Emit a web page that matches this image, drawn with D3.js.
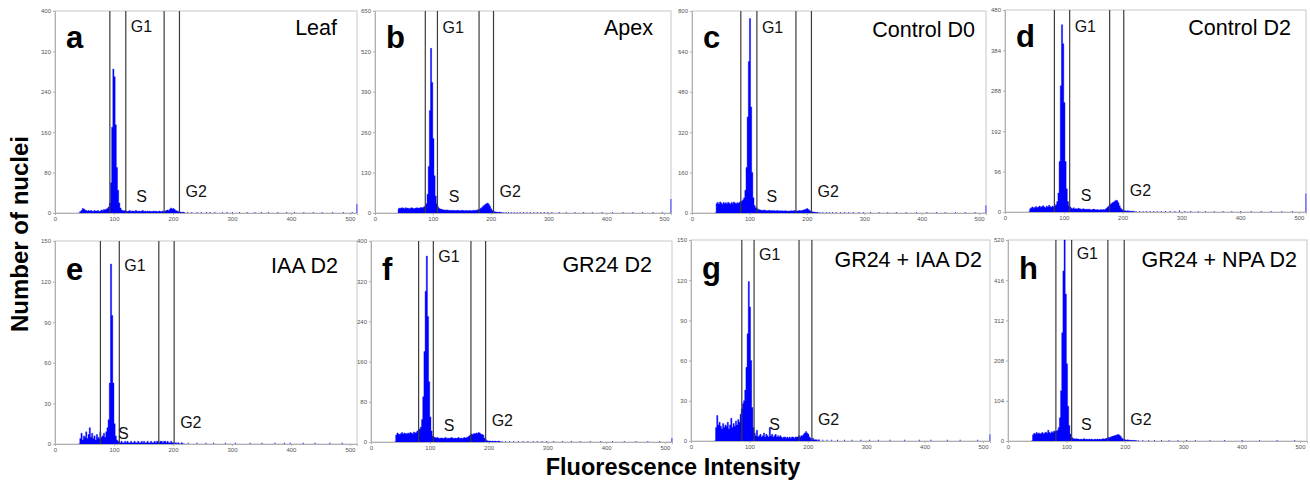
<!DOCTYPE html>
<html>
<head>
<meta charset="utf-8">
<script src="https://cdn.jsdelivr.net/npm/d3@7"></script>
<style>
  html, body { margin: 0; padding: 0; background: #fff; }
  svg { display: block; }
</style>
</head>
<body>
<svg id="chart" width="1310" height="484"></svg>
<script>
// ---- Flow cytometry histograms: nuclei counts per fluorescence channel ----

const panelLetters = ["a", "b", "c", "d", "e", "f", "g", "h"];
const panelTitles = ["Leaf", "Apex", "Control D0", "Control D2", "IAA D2", "GR24 D2", "GR24 + IAA D2", "GR24 + NPA D2"];

// y-axis maxima and tick labels for each panel
const yMax = [400, 650, 800, 480, 150, 400, 150, 520];
const yTickValues = [
  [0, 80, 160, 240, 320, 400],
  [0, 130, 260, 390, 520, 650],
  [0, 160, 320, 480, 640, 800],
  [0, 96, 192, 288, 384, 480],
  [0, 30, 60, 90, 120, 150],
  [0, 80, 160, 240, 320, 400],
  [0, 30, 60, 90, 120, 150],
  [0, 104, 208, 312, 416, 520]
];
const xTickValues = [0, 100, 200, 300, 400, 500];
const channelMax = 512;

// gate boundaries (channel): G1 start, G1 end / S start, S end / G2 start, G2 end
const gates = [
  [93, 120, 185, 211],
  [87, 108, 180, 205],
  [85, 113, 181, 208],
  [84, 110, 178, 202],
  [77, 109, 176, 202],
  [81, 106, 170, 195],
  [87, 108, 185, 207],
  [82, 109, 171, 199]
];
// channel where the "S" label is centred
const sLabelChannel = [147, 137, 139, 138, 116, 133, 143, 134];

// histogram counts: bins of 2 channels starting at channel 40
const binStart = 40;
const binWidth = 2;

const leafCounts = [
  0, 3, 5, 9, 8, 6, 5, 4, 5, 4,
  5, 4, 3, 5, 4, 4, 5, 3, 4, 6,
  5, 7, 6, 8, 9, 12, 20, 60, 170, 285,
  270, 175, 90, 45, 20, 10, 6, 5, 4, 5,
  4, 3, 4, 5, 3, 4, 4, 3, 5, 4,
  3, 4, 3, 4, 5, 3, 4, 3, 4, 3,
  4, 3, 3, 4, 3, 4, 3, 3, 4, 3,
  3, 4, 3, 4, 5, 6, 5, 8, 10, 8,
  9, 7, 5, 4, 3, 2, 2, 1, 2, 1
];
const apexCounts = [
  14, 16, 15, 17, 16, 14, 17, 15, 16, 14,
  15, 17, 16, 14, 15, 16, 17, 15, 16, 18,
  17, 18, 20, 22, 30, 60, 150, 330, 530, 420,
  240, 120, 55, 30, 20, 15, 13, 12, 11, 10,
  10, 9, 10, 9, 8, 9, 8, 9, 8, 8,
  8, 9, 8, 7, 8, 9, 8, 7, 8, 8,
  7, 8, 8, 7, 8, 9, 8, 9, 10, 11,
  12, 15, 18, 22, 25, 28, 30, 32, 28, 22,
  14, 8, 5, 4, 3, 3, 2, 3, 2, 2
];
const controlD0Counts = [
  0, 38, 42, 36, 44, 40, 35, 42, 38, 41,
  37, 43, 39, 36, 42, 38, 44, 40, 37, 41,
  39, 43, 45, 48, 52, 60, 90, 180, 380, 600,
  770, 420, 160, 60, 30, 22, 18, 15, 13, 12,
  11, 10, 12, 11, 10, 9, 10, 11, 9, 10,
  9, 10, 8, 9, 10, 8, 9, 8, 9, 8,
  8, 9, 8, 7, 8, 8, 9, 8, 9, 10,
  9, 8, 9, 10, 9, 10, 11, 12, 14, 16,
  18, 14, 10, 7, 5, 4, 3, 3, 2, 2
];
const controlD2Counts = [
  0, 8, 10, 12, 9, 11, 13, 10, 12, 14,
  11, 13, 15, 12, 10, 14, 12, 16, 13, 11,
  14, 12, 15, 18, 25, 45, 120, 300, 445, 400,
  260, 120, 55, 25, 15, 12, 9, 8, 10, 7,
  8, 7, 9, 8, 7, 6, 8, 7, 6, 7,
  6, 7, 6, 5, 6, 7, 6, 5, 6, 5,
  5, 6, 5, 6, 5, 7, 9, 12, 15, 18,
  20, 22, 24, 26, 28, 27, 22, 15, 9, 6,
  4, 3, 3, 2, 3, 2, 2, 2, 1, 2
];
const iaaD2Counts = [
  0, 4, 8, 3, 6, 5, 9, 4, 7, 12,
  5, 8, 4, 6, 3, 7, 5, 4, 9, 5,
  6, 8, 5, 9, 12, 18, 45, 133, 95, 45,
  15, 6, 3, 2, 2, 1, 2, 1, 1, 2,
  1, 2, 1, 1, 2, 1, 1, 2, 1, 1,
  2, 1, 1, 2, 1, 2, 1, 1, 2, 1,
  1, 2, 1, 1, 2, 1, 2, 2, 1, 2,
  2, 1, 2, 2, 1, 2, 1, 1, 2, 1,
  1, 0, 1, 0, 1, 0, 0, 1, 0, 0
];
const gr24D2Counts = [
  0, 14, 18, 16, 15, 17, 19, 16, 18, 17,
  16, 18, 17, 19, 18, 16, 20, 18, 19, 22,
  24, 26, 30, 45, 90, 180, 300, 370, 250, 120,
  50, 22, 12, 10, 9, 8, 9, 8, 7, 8,
  8, 7, 8, 9, 7, 8, 7, 8, 9, 8,
  7, 8, 7, 8, 9, 7, 8, 7, 8, 9,
  8, 9, 10, 12, 14, 16, 15, 17, 16, 18,
  17, 19, 18, 16, 15, 14, 8, 5, 3, 2,
  2, 2, 1, 2, 1, 2, 1, 1, 2, 1
];
const gr24IaaD2Counts = [
  0, 10, 19, 12, 14, 11, 9, 13, 10, 12,
  11, 14, 9, 12, 17, 10, 13, 11, 15, 12,
  16, 14, 20, 24, 28, 30, 38, 55, 80, 119,
  100, 60, 25, 10, 6, 4, 8, 3, 4, 5,
  3, 4, 6, 3, 5, 4, 3, 10, 4, 5,
  3, 4, 5, 3, 4, 3, 4, 3, 2, 3,
  3, 2, 3, 2, 3, 2, 3, 3, 2, 3,
  3, 3, 4, 3, 4, 4, 5, 6, 7, 6,
  5, 3, 2, 1, 2, 1, 1, 1, 0, 1
];
const gr24NpaD2Counts = [
  0, 16, 20, 18, 22, 19, 21, 18, 20, 22,
  19, 21, 23, 20, 28, 22, 20, 24, 22, 26,
  24, 26, 28, 35, 60, 130, 280, 440, 520, 380,
  200, 90, 40, 18, 10, 7, 6, 5, 6, 5,
  5, 4, 5, 4, 5, 6, 4, 5, 4, 5,
  4, 5, 4, 4, 5, 4, 5, 4, 5, 4,
  5, 6, 5, 6, 7, 8, 9, 10, 11, 12,
  13, 14, 15, 16, 17, 15, 12, 8, 5, 4,
  3, 2, 3, 2, 2, 1, 2, 1, 1, 1
];

// sparse events beyond the binned range: [channel, count]
const leafTail = [[224,1],[231,2],[240,1],[247,1],[256,2],[262,1],[270,1],[283,1],[291,2],[300,1],[312,1],[325,1],[338,1],[349,2],[361,1],[377,1],[392,1],[405,1],[421,1],[437,2],[452,1],[470,1],[488,1],[503,1],[511,18]];
const apexTail = [[222,3],[226,2],[230,2],[235,2],[240,1],[245,2],[250,2],[256,1],[262,2],[268,1],[274,2],[280,1],[286,2],[292,1],[298,1],[305,1],[318,1],[330,1],[345,1],[360,1],[375,1],[392,1],[410,1],[428,1],[445,1],[462,1],[480,1],[496,1],[511,45]];
const controlD0Tail = [[222,2],[227,2],[233,1],[238,2],[244,1],[250,2],[258,1],[265,1],[272,2],[280,1],[290,1],[298,1],[310,1],[325,1],[340,1],[355,1],[372,1],[390,1],[408,1],[425,1],[440,1],[458,1],[475,1],[492,1],[511,30]];
const controlD2Tail = [[222,2],[228,2],[234,1],[240,2],[246,1],[252,2],[258,1],[265,2],[272,1],[280,1],[288,2],[296,4],[305,1],[315,1],[328,1],[340,1],[355,1],[370,1],[385,1],[400,1],[418,1],[435,1],[452,1],[470,1],[488,1],[511,44]];
const iaaD2Tail = [[225,1],[240,1],[255,1],[268,1],[288,1],[305,1],[330,1],[350,1],[372,1],[388,1],[398,1],[420,1],[440,1],[465,1],[486,1]];
const gr24D2Tail = [[222,1],[228,2],[235,1],[242,1],[250,2],[258,1],[266,1],[275,1],[282,2],[290,2],[298,1],[310,1],[325,1],[340,1],[355,1],[372,1],[390,1],[410,1],[430,1],[450,1],[470,1],[490,1],[511,8]];
const gr24IaaD2Tail = [[225,1],[232,1],[240,1],[250,1],[262,1],[275,1],[290,1],[305,1],[320,1],[340,1],[365,1],[390,1],[410,1],[438,1],[460,1],[490,1],[511,5]];
const gr24NpaD2Tail = [[222,1],[230,1],[240,1],[250,1],[262,1],[275,1],[290,1],[305,1],[320,1],[345,1],[370,1],[400,1],[430,1],[460,1],[490,1]];

const panelCounts = [leafCounts, apexCounts, controlD0Counts, controlD2Counts, iaaD2Counts, gr24D2Counts, gr24IaaD2Counts, gr24NpaD2Counts];
const panelTails = [leafTail, apexTail, controlD0Tail, controlD2Tail, iaaD2Tail, gr24D2Tail, gr24IaaD2Tail, gr24NpaD2Tail];

// ---- layout (pixels) ----
// plot box per panel: [left, top, right, bottom]
const plotBoxes = [
  [55, 11, 357, 213],
  [375, 11, 671, 213],
  [692, 11, 986, 213],
  [1005, 10, 1306, 212],
  [55, 241, 357, 444],
  [371, 241, 672, 442],
  [691, 240, 990, 441],
  [1008, 240, 1307, 441]
];
const titleRightInset = [20, 18, 11, 15, 19, 20, 8, 10];
const titleBaselineOffset = [24, 24, 26, 25, 32, 31, 27, 27];
const g1Offset = [15, 16, 16, 16, 24, 15, 14, 13];

const svg = d3.select("#chart");
const font = "'Liberation Sans', Arial, Helvetica, sans-serif";

panelTitles.forEach((title, i) => {
  const [L, T, R, B] = plotBoxes[i];
  const x = d3.scaleLinear().domain([0, channelMax]).range([L, R]);
  const y = d3.scaleLinear().domain([0, yMax[i]]).range([B, T]);
  const g = svg.append("g").attr("class", "panel");

  // frame
  g.append("rect")
    .attr("x", L).attr("y", T)
    .attr("width", R - L).attr("height", B - T)
    .attr("fill", "none").attr("stroke", "#c8c8c8").attr("stroke-width", 1);

  // histogram as a stepped area over the binned channels
  const bins = panelCounts[i].map((v, k) => ({ ch: binStart + k * binWidth, v }));
  const last = bins[bins.length - 1];
  const stepPts = bins.concat([{ ch: last.ch + binWidth, v: last.v }]);
  const area = d3.area()
    .x(d => x(d.ch))
    .y0(B)
    .y1(d => y(Math.min(d.v, yMax[i])))
    .curve(d3.curveStepAfter);
  g.append("path")
    .datum(stepPts)
    .attr("d", area)
    .attr("fill", "#0000ff")
    .attr("stroke", "#0000ff")
    .attr("stroke-width", 0.4);

  // sparse events
  g.append("g").selectAll("rect").data(panelTails[i]).join("rect")
    .attr("x", d => x(d[0]))
    .attr("width", d => Math.max(1, x(d[0] + 1) - x(d[0])))
    .attr("y", d => Math.min(y(d[1]), B - 1))
    .attr("height", d => Math.max(1, B - y(d[1])))
    .attr("fill", "#3a3aff");

  // axes
  const xAxis = d3.axisBottom(x).tickValues(xTickValues).tickSize(2).tickPadding(2);
  const gx = g.append("g").attr("transform", `translate(0,${B})`).call(xAxis);
  const yAxis = d3.axisLeft(y).tickValues(yTickValues[i]).tickSize(2).tickPadding(2);
  const gy = g.append("g").attr("transform", `translate(${L},0)`).call(yAxis);
  [gx, gy].forEach(ax => {
    ax.select(".domain").attr("stroke", "#b0b0b0");
    ax.selectAll(".tick line").attr("stroke", "#b0b0b0");
    ax.selectAll(".tick text").attr("fill", "#555").attr("font-size", 6).attr("font-family", font);
  });

  // gate lines
  g.append("g").selectAll("line").data(gates[i]).join("line")
    .attr("x1", d => x(d)).attr("x2", d => x(d))
    .attr("y1", T).attr("y2", B)
    .attr("stroke", "#3c3c3c").attr("stroke-width", 1.2);

  // gate labels
  const gateLabel = (txt, xx, yy, anchor) => g.append("text")
    .attr("x", xx).attr("y", yy).attr("text-anchor", anchor)
    .attr("dominant-baseline", "central")
    .attr("font-family", font).attr("font-size", 16).attr("fill", "#111")
    .text(txt);
  gateLabel("G1", x(gates[i][1]) + 5, T + g1Offset[i], "start");
  gateLabel("S", x(sLabelChannel[i]), i === 4 ? B - 11 : B - 17, "middle");
  gateLabel("G2", x(gates[i][3]) + 6, B - 22, "start");

  // panel letter
  g.append("text")
    .attr("x", L + 11).attr("y", T + (i < 4 ? 37 : 39))
    .attr("font-family", font).attr("font-weight", "bold").attr("font-size", 31)
    .attr("fill", "#000")
    .text(panelLetters[i]);

  // panel title
  g.append("text")
    .attr("x", R - titleRightInset[i]).attr("y", T + titleBaselineOffset[i])
    .attr("text-anchor", "end")
    .attr("font-family", font).attr("font-size", 21.5).attr("fill", "#000")
    .text(title);
});

// shared axis titles
svg.append("text")
  .attr("transform", "translate(28,234) rotate(-90)")
  .attr("text-anchor", "middle")
  .attr("font-family", font).attr("font-weight", "bold").attr("font-size", 24)
  .text("Number of nuclei");

svg.append("text")
  .attr("x", 673).attr("y", 475)
  .attr("text-anchor", "middle")
  .attr("font-family", font).attr("font-weight", "bold").attr("font-size", 23.5)
  .text("Fluorescence Intensity");
</script>
</body>
</html>
